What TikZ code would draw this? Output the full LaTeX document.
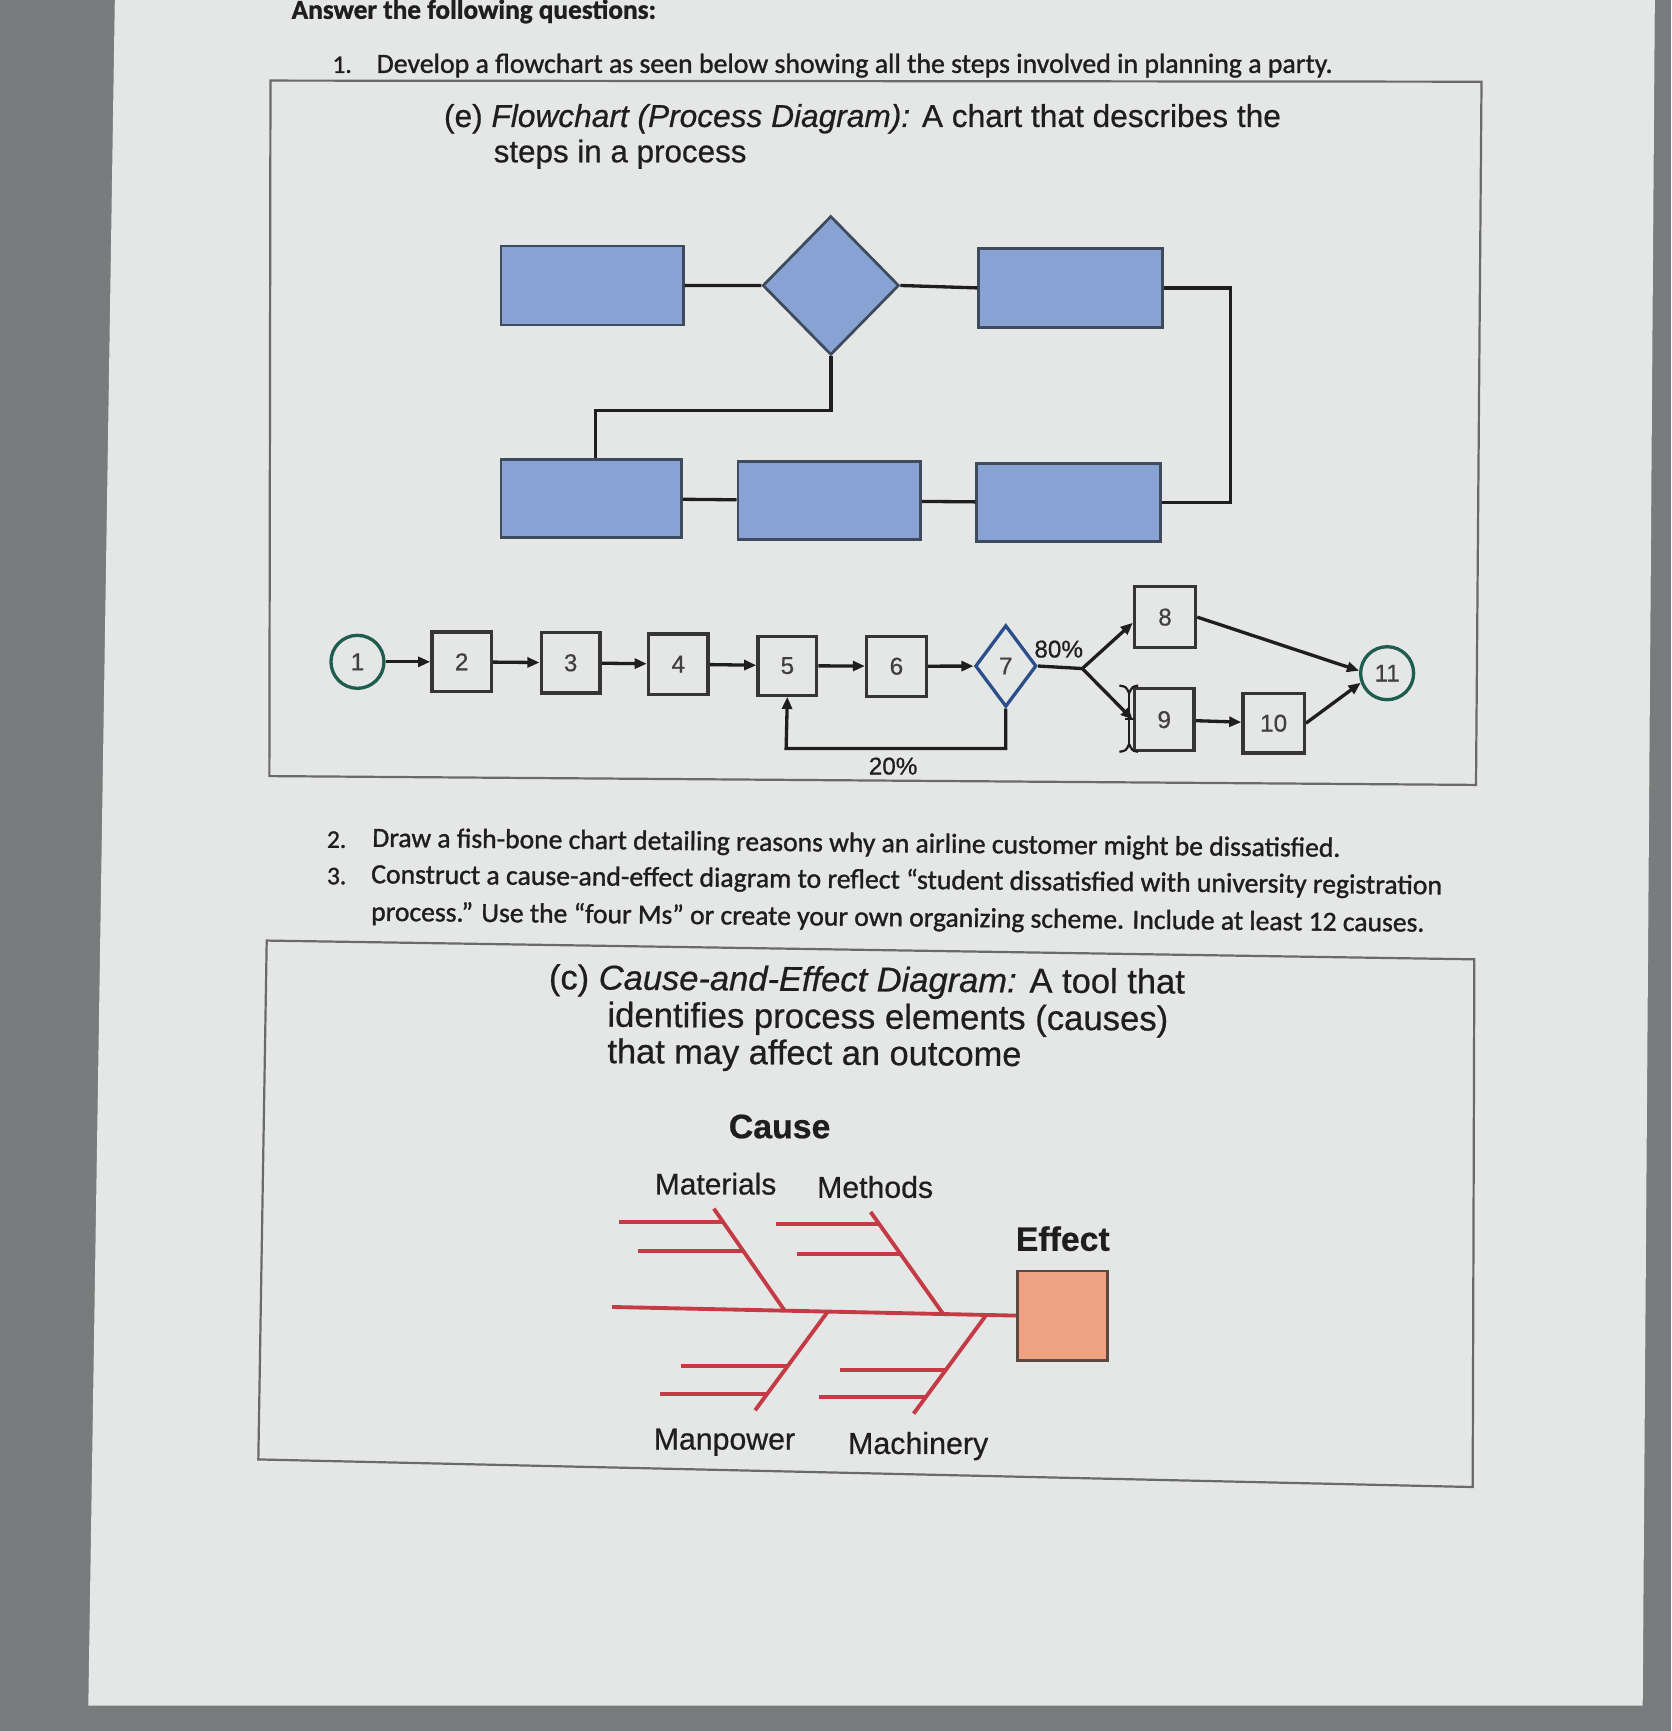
\documentclass[tikz,border=0pt]{standalone}
\usepackage{fontspec}
\setmainfont{Carlito}
\newfontfamily\qfont{Carlito}[FakeBold=1.2]
\newfontfamily\arialf{Liberation Sans}[FakeBold=0.6]
\usepackage{graphicx}
\usetikzlibrary{arrows.meta,shapes.geometric,calc}
\definecolor{pagec}{HTML}{E4E7E5}
\definecolor{bgc}{HTML}{7A7B7C}
\definecolor{inkc}{HTML}{1E1E1E}
\definecolor{framec}{HTML}{6A6A6A}
\definecolor{bluef}{HTML}{88A3D3}
\definecolor{blued}{HTML}{3D4B5C}
\definecolor{tealc}{HTML}{1E5C4E}
\definecolor{diac}{HTML}{2B4F8A}
\definecolor{fishc}{HTML}{C43B45}
\definecolor{effc}{HTML}{EEA283}
\definecolor{effd}{HTML}{5A4A40}
\newcommand{\fitw}[2]{\resizebox{#1pt}{!}{#2}}
\tikzset{
  txt/.style={anchor=base west, inner sep=0pt, text=inkc},
  bluebox/.style={draw=blued, fill=bluef, line width=2.5pt, rectangle, inner sep=0pt},
  conn/.style={draw=inkc, line width=3pt},
  stepbox/.style={draw=inkc!90, line width=3pt, rectangle, inner sep=0pt, font=\arialf\fontsize{22}{24}\selectfont, text=inkc!85},
  endc/.style={draw=tealc, line width=3pt, circle, inner sep=0pt, minimum size=48pt, font=\arialf\fontsize{22}{24}\selectfont, text=inkc!85},
  arr/.style={-{Triangle[length=11pt,width=9pt]}, line width=3pt, draw=inkc},
  bone/.style={draw=fishc, line width=3.5pt},
  lbl/.style={inner sep=0pt, text=inkc, font=\arialf\fontsize{22}{24}\selectfont},
  qnum/.style={anchor=base west, inner sep=0pt, text=inkc, font=\qfont\fontsize{23}{26}\selectfont}
}
\begin{document}
\begin{tikzpicture}[x=1pt,y=-1pt]
\useasboundingbox (0,0) rectangle (1514,1568);
\clip (0,0) rectangle (1514,1568);
% photo background and page
\fill[bgc] (0,0) rectangle (1514,1568);
\fill[pagec] (104,0) -- (1499,0) -- (1488,1545) -- (80,1545) -- cycle;

% top texts
\node[txt] (t0) at (264,17) {\fitw{330}{\qfont\bfseries Answer the following questions:}};
\node[qnum] (n1) at (301,66) {1.};
\node[txt] (q1) at (341,66) {\fitw{866}{\qfont Develop a flowchart as seen below showing all the steps involved in planning a party.}};

% frame 1
\draw[framec, line width=2pt] (245,73) -- (1342,74) -- (1337,711) -- (244,703) -- cycle;
\node[txt] (h1) at (402,115) {\fitw{758}{\arialf (e) \textit{Flowchart (Process Diagram):} A chart that describes the}};
\node[txt] (h1b) at (447,147) {\fitw{229}{\arialf steps in a process}};

% upper flowchart
\node[bluebox, minimum width=165pt, minimum height=71.6pt] (rA) at (536.3,258.7) {};
\node[draw=blued, fill=bluef, line width=2.5pt, diamond, inner sep=0pt, minimum width=123.5pt, minimum height=125.9pt] (dia) at (752.6,258.6) {};
\node[bluebox, minimum width=166.8pt, minimum height=71.6pt] (rB) at (969.9,260.8) {};
\node[bluebox, minimum width=163.6pt, minimum height=70.6pt] (rC) at (535.6,451.5) {};
\node[bluebox, minimum width=165.4pt, minimum height=70.3pt] (rD) at (751.1,453.5) {};
\node[bluebox, minimum width=166.8pt, minimum height=71pt] (rE) at (968.1,455.3) {};
\coordinate (k) at (539.5,372);
\draw[conn] (rA.east) -- (dia.west);
\draw[conn] (dia.east) -- (rB.west);
\draw[conn] (rB.east) -- ++(60,0) |- (rE.east);
\draw[conn] (dia.south) |- (k) -- (k |- rC.north);
\draw[conn] (rC) -- (rD);
\draw[conn] (rD) -- (rE);

% lower flowchart
\node[endc] (c1) at (323.8,599.5) {1};
\node[stepbox, minimum width=54pt, minimum height=54pt] (b2) at (418.2,599.5) {2};
\node[stepbox, minimum width=53.4pt, minimum height=54.4pt] (b3) at (516.9,600.4) {3};
\node[stepbox, minimum width=54pt, minimum height=54.4pt] (b4) at (614.4,601.6) {4};
\node[stepbox, minimum width=53.3pt, minimum height=53.4pt] (b5) at (713.2,603) {5};
\node[stepbox, minimum width=54pt, minimum height=54.3pt] (b6) at (812,603.5) {6};
\node[draw=diac, line width=3pt, diamond, inner sep=0pt, minimum width=55.5pt, minimum height=74pt, font=\arialf\fontsize{22}{24}\selectfont, text=inkc!85] (d7) at (911.1,603.3) {7};
\node[stepbox, minimum width=55.4pt, minimum height=55pt] (b8) at (1055.3,559) {8};
\node[stepbox, minimum width=54pt, minimum height=56.4pt] (b9) at (1054.6,651.9) {9};
\node[stepbox, minimum width=55.5pt, minimum height=53.8pt] (b10) at (1153.7,655.1) {10};
\node[endc] (c11) at (1256.5,609.8) {11};
\coordinate (j) at (980.4,605.6);
\coordinate (fb) at (712.1,678);
\node[lbl] (p80) at (959,588) {80\%};
\node[lbl] (p20) at (809,694) {20\%};
\draw[arr] (c1) -- (b2);
\draw[arr] (b2) -- (b3);
\draw[arr] (b3) -- (b4);
\draw[arr] (b4) -- (b5);
\draw[arr] (b5) -- (b6);
\draw[arr] (b6) -- (d7);
\draw[conn] (d7.east) -- (j);
\draw[arr] (j) -- (b8.190);
\draw[arr] (j) -- (b9.west);
\draw[arr] (b9) -- (b10);
\draw[arr] (b8.east) -- (c11.175);
\draw[arr] (b10.east) -- (c11.200);
\draw[arr] (d7.south) |- (fb) -- (b5.south);
% text cursor
\draw[inkc, line width=2pt] (1022.8,627) -- (1022.8,675);
\draw[inkc, line width=2pt] (1014,621) .. controls (1020,622) .. (1022.8,628) .. controls (1025.6,622) .. (1031,621);
\draw[inkc, line width=2pt] (1014,681) .. controls (1020,680) .. (1022.8,674) .. controls (1025.6,680) .. (1031,681);
\draw[inkc, line width=2pt] (1019,651) -- (1027,651);

% questions 2, 3
\node[qnum] (n2) at (296,768) {2.};
\node[txt, rotate=-0.6] (q2) at (337,767) {\fitw{877}{\qfont Draw a fish-bone chart detailing reasons why an airline customer might be dissatisfied.}};
\node[qnum] (n3) at (296,801) {3.};
\node[txt, rotate=-0.6] (q3) at (336,800) {\fitw{970}{\qfont Construct a cause-and-effect diagram to reflect “student dissatisfied with university registration}};
\node[txt, rotate=-0.6] (q3b) at (336,834) {\fitw{954}{\qfont process.” Use the “four Ms” or create your own organizing scheme. Include at least 12 causes.}};

% frame 2
\draw[framec, line width=2pt] (241.6,852) -- (1335.5,869) -- (1334,1347) -- (234,1322) -- cycle;
\node[txt, rotate=-0.4] (h2) at (497,896) {\fitw{576}{\arialf (c) \textit{Cause-and-Effect Diagram:} A tool that}};
\node[txt, rotate=-0.4] (h2b) at (550,930) {\fitw{508}{\arialf identifies process elements (causes)}};
\node[txt, rotate=-0.4] (h2c) at (550,963) {\fitw{375}{\arialf that may affect an outcome}};

% fishbone
\node[txt] (cause) at (660,1031) {\fitw{92}{\arialf\bfseries Cause}};
\node[txt] (mat) at (593,1082) {\fitw{110}{\arialf Materials}};
\node[txt] (met) at (740,1085) {\fitw{105}{\arialf Methods}};
\node[txt] (efft) at (920,1133) {\fitw{85}{\arialf\bfseries Effect}};
\node[txt] (man) at (592,1313) {\fitw{128}{\arialf Manpower}};
\node[txt] (mac) at (768,1317) {\fitw{127}{\arialf Machinery}};
\node[draw=effd, fill=effc, line width=2.5pt, rectangle, inner sep=0pt, minimum width=81.7pt, minimum height=81pt] (eff) at (962.2,1191.7) {};
\coordinate (sp) at (554.5,1183.9);
\draw[bone] (sp) -- (eff.west);
% Materials
\draw[bone] (646.6,1094.8) -- (710.6,1186.9);
\draw[bone] (560.8,1106.9) -- (655.0,1106.9);
\draw[bone] (577.9,1133.1) -- (673.2,1133.1);
% Methods
\draw[bone] (788.6,1097.8) -- (854.1,1189.9);
\draw[bone] (702.8,1109) -- (796.6,1109);
\draw[bone] (721.5,1136.1) -- (815.8,1136.1);
% Manpower
\draw[bone] (749.6,1188.4) -- (684,1277.5);
\draw[bone] (617,1237.6) -- (713.4,1237.6);
\draw[bone] (598.2,1262.4) -- (695.1,1262.4);
% Machinery
\draw[bone] (893.2,1191.4) -- (827.6,1280.5);
\draw[bone] (760.5,1241.2) -- (856.5,1241.2);
\draw[bone] (741.8,1265.4) -- (838.7,1265.4);
\end{tikzpicture}
\end{document}
